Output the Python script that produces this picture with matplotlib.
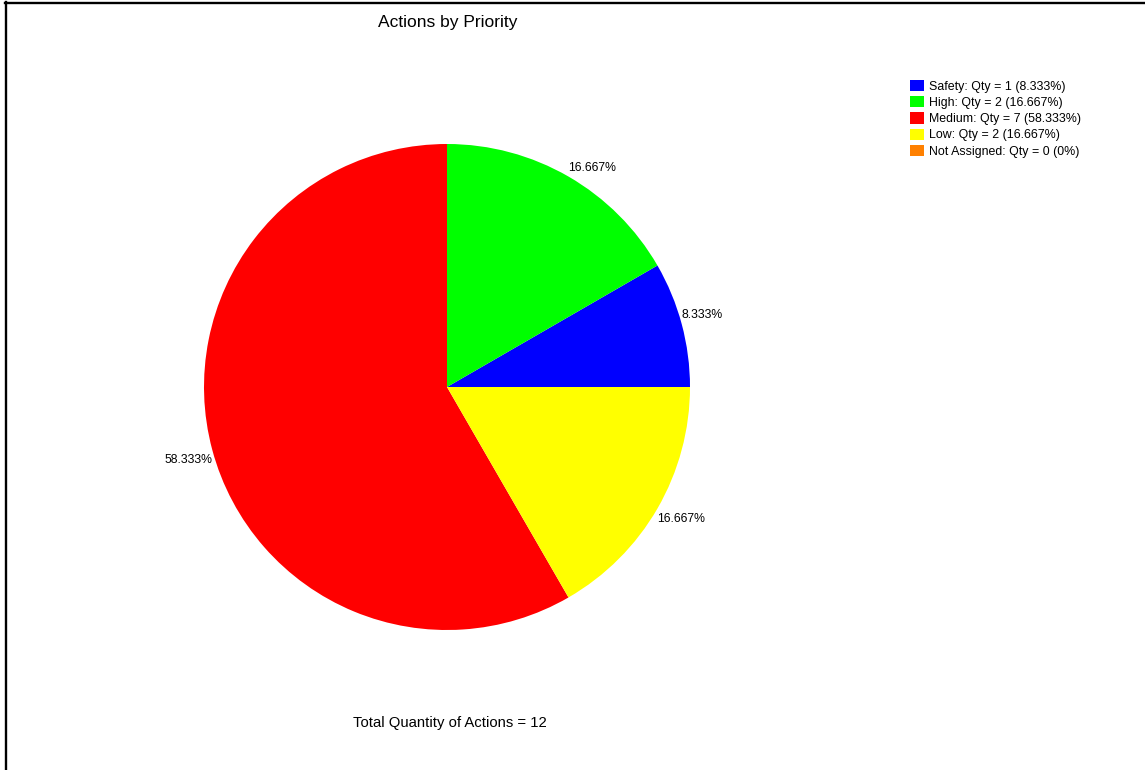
import matplotlib
matplotlib.use('Agg')
import matplotlib.pyplot as plt
from matplotlib.lines import Line2D

plt.rcParams['font.family'] = ['Liberation Sans', 'DejaVu Sans']

# priority breakdown
priorities = ['Safety', 'High', 'Medium', 'Low', 'Not Assigned']
quantities = [1, 2, 7, 2, 0]
colors = ['#0000ff', '#00ff00', '#ff0000', '#ffff00', '#ff8000']

total = sum(quantities)
percents = [q / total * 100 for q in quantities]
pct_text = [f"{round(p, 3):g}%" for p in percents]
slice_labels = [t if q > 0 else '' for t, q in zip(pct_text, quantities)]
legend_labels = [f"{n}: Qty = {q} ({t})" for n, q, t in zip(priorities, quantities, pct_text)]

W, H = 1145, 770
fig = plt.figure(figsize=(W / 100, H / 100), dpi=100)
ax = fig.add_axes([0, 0, 1, 1])

cx, cy, r = 447, H - 387, 243
wedges, texts = ax.pie(quantities, colors=colors, labels=slice_labels,
                       startangle=0, counterclock=True, radius=r,
                       center=(cx, cy), labeldistance=1.0,
                       textprops={'fontsize': 8.8, 'color': 'black'})
# push labels away from the pie a little
for t in texts:
    x, y = t.get_position()
    if y > cy:
        t.set_va('bottom')
        t.set_y(y + 3)
    else:
        t.set_va('top')
        t.set_y(y - 4)
    t.set_ha('left' if x > cx else 'right')

ax.set_xlim(0, W)
ax.set_ylim(0, H)
ax.set_aspect('equal')
ax.axis('off')

fig.text(448 / W, 1 - 22 / H, 'Actions by Priority', ha='center', va='center', fontsize=12.5)
fig.text(450 / W, 1 - 723 / H, 'Total Quantity of Actions = 12', ha='center', va='center', fontsize=10.7)

fig.legend(wedges, legend_labels, loc='upper left',
           bbox_to_anchor=(910 / W, 1 - 80 / H), bbox_transform=fig.transFigure,
           frameon=False, fontsize=8.9, borderpad=0, borderaxespad=0,
           handlelength=1.15, handleheight=1.0, handletextpad=0.35,
           labelspacing=0.28)

# outer frame lines (left and top only)
fig.add_artist(Line2D([6 / W, 6 / W], [0, 1 - 2 / H], transform=fig.transFigure,
                      color='black', lw=1.7))
fig.add_artist(Line2D([5 / W, 1], [1 - 3 / H, 1 - 3 / H], transform=fig.transFigure,
                      color='black', lw=1.7))

fig.savefig('out.png', dpi=100)
